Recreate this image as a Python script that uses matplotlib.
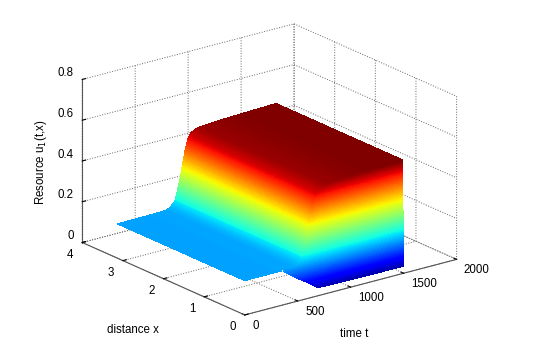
import numpy as np
import matplotlib
matplotlib.use("Agg")
import matplotlib.pyplot as plt

plt.rcParams['font.family'] = ['Liberation Sans', 'DejaVu Sans']
plt.rcParams['font.size'] = 8.3

# valori
time_t = [0, 200, 350, 450, 500, 545, 590, 615, 640, 665, 690, 730, 765, 850, 1000, 1250, 1500]
u_inner = [.168, .169, .170, .171, .180, .207, .300, .370, .440, .490, .518, .530, .537, .540, .545, .550, .554]
u_edge = [.168, .168, .168, .130, .110, .095, .078, .068, .060, .050, .040, .040, .038, .037, .036, .035, .035]
dist_x = [0, .03, 3.14]

x_ticks = [0, 1, 2, 3, 4]
t_ticks = [0, 500, 1000, 1500, 2000]
z_ticks = [0, .2, .4, .6, .8]
z_labels = ['0', '0.2', '0.4', '0.6', '0.8']

# tabella u(t, x): bordo, inizio interno, fine interno
u_table = np.array([u_edge, u_inner, u_inner])

# "shading interp": griglia fine solo per il disegno
t_fine = np.concatenate([np.linspace(0, 350, 15)[:-1], np.linspace(350, 800, 280)[:-1], np.linspace(800, 1500, 30)])
x_fine = np.concatenate([np.linspace(dist_x[0], dist_x[1], 120), np.linspace(dist_x[1], dist_x[2], 15)[1:]])
rows = np.array([np.interp(t_fine, time_t, r) for r in u_table])
U = np.array([np.interp(x_fine, dist_x, rows[:, j]) for j in range(len(t_fine))]).T
T, X = np.meshgrid(t_fine, x_fine)

fig = plt.figure(figsize=(5.4, 3.57), dpi=100)
ax = fig.add_axes([-.01, .012, 1, 1], projection='3d', proj_type='ortho')
ax.view_init(elev=20, azim=-127.5)
ax.set_box_aspect((1, 1, .65), zoom=1.13)

ax.plot_surface(T, X, U, cmap='jet', vmin=.018, vmax=.55, rstride=1, cstride=1,
                linewidth=0, antialiased=False, shade=False)

ax.set_xlim(0, 2000)
ax.set_ylim(0, 4)
ax.set_zlim(0, .8)
ax.set_xticks(t_ticks)
ax.set_yticks(x_ticks)
ax.set_zticks(z_ticks)
ax.set_zticklabels(z_labels)

for axis in (ax.xaxis, ax.yaxis, ax.zaxis):
    axis.set_pane_color((1, 1, 1, 0))
    axis.pane.set_edgecolor((1, 1, 1, 0))
    axis.line.set_color('#555555')
    axis.line.set_linewidth(.8)
    axis._axinfo['grid'].update(color='#666666', linestyle=':', linewidth=.7)
    axis._axinfo['tick'].update(inward_factor=.0, outward_factor=.2)
ax.zaxis.set_ticks_position('upper')
ax.tick_params(axis='x', pad=-2)
ax.tick_params(axis='y', pad=-.5)
ax.tick_params(axis='z', pad=-5)

for lab in ax.get_xticklabels():
    lab.set_ha('left')
    lab.set_va('center')
for lab in ax.get_yticklabels():
    lab.set_va('center')
for lab in ax.get_zticklabels():
    lab.set_ha('right')
    lab.set_va('bottom')

fig.text(133 / 540, 1 - 330 / 357, 'distance x', ha='center', va='center')
fig.text(354 / 540, 1 - 334 / 357, 'time t', ha='center', va='center')
fig.text(41 / 540, 1 - 162 / 357, 'Resource u$_1$(t,x)', rotation=90, ha='center', va='center')

fig.savefig('out.png', dpi=100)
